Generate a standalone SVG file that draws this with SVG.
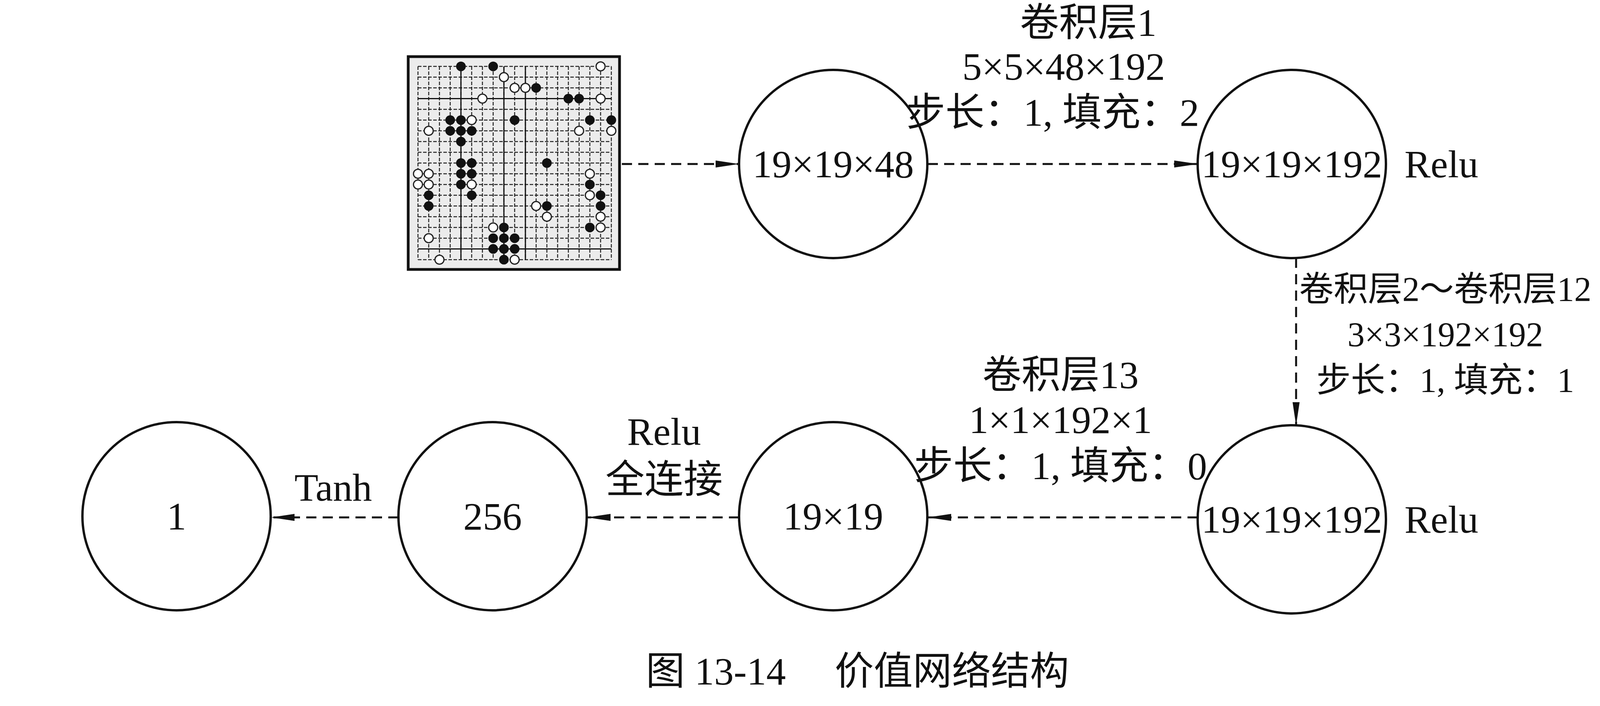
<svg xmlns="http://www.w3.org/2000/svg" width="4300" height="1808" viewBox="0 0 4300 1808">
<style>
.n{fill:#fff;stroke:#111;stroke-width:6}
.t{font-family:"Liberation Serif","Noto Sans CJK SC",serif;font-size:100px;fill:#111;text-anchor:middle;dominant-baseline:central}
.r{font-size:88px}
.c{stroke:#111;stroke-width:5;stroke-dasharray:26 16;fill:none}
.g{stroke:#222;stroke-width:2.5;stroke-dasharray:9 4}
.b{fill:#111}
.w{fill:#fff;stroke:#222}
</style>
<defs>
<marker id="ah" viewBox="0 0 60 18" refX="60" refY="9" markerWidth="60" markerHeight="18" markerUnits="userSpaceOnUse" orient="auto"><path d="M0,0 L60,9 L0,18 Z" fill="#111"/></marker>
</defs>
<rect width="4300" height="1808" fill="#fff"/>
<g id="board">
<rect x="1045" y="145" width="541" height="545" fill="#ececec" stroke="#111" stroke-width="7"/>
<g id="grid">
<path class="g" d="M1070,170H1565M1070,197.5H1565M1070,225H1565M1070,252.5H1565M1070,280H1565M1070,307.5H1565M1070,335H1565M1070,362.5H1565M1070,390H1565M1070,417.5H1565M1070,445H1565M1070,472.5H1565M1070,500H1565M1070,527.5H1565M1070,555H1565M1070,582.5H1565M1070,610H1565M1070,637.5H1565M1070,665H1565"/>
<path class="g" d="M1070,170V665M1097.5,170V665M1125,170V665M1152.5,170V665M1180,170V665M1207.5,170V665M1235,170V665M1262.5,170V665M1290,170V665M1317.5,170V665M1345,170V665M1372.5,170V665M1400,170V665M1427.5,170V665M1455,170V665M1482.5,170V665M1510,170V665M1537.5,170V665M1565,170V665"/>
<path stroke="#111" stroke-width="3" d="M1070,252.5H1565M1180,170V665M1290,170V665M1345,170V665M1070,637.5H1565"/>
</g>
<g id="stones" transform="translate(1070,170) scale(27.5)">
<g class="b">
<circle cx="4" cy="0" r="0.45"/><circle cx="7" cy="0" r="0.45"/><circle cx="11" cy="2" r="0.45"/><circle cx="14" cy="3" r="0.45"/><circle cx="15" cy="3" r="0.45"/>
<circle cx="3" cy="5" r="0.45"/><circle cx="4" cy="5" r="0.45"/><circle cx="9" cy="5" r="0.45"/><circle cx="16" cy="5" r="0.45"/><circle cx="18" cy="5" r="0.45"/>
<circle cx="3" cy="6" r="0.45"/><circle cx="4" cy="6" r="0.45"/><circle cx="5" cy="6" r="0.45"/><circle cx="4" cy="7" r="0.45"/>
<circle cx="4" cy="9" r="0.45"/><circle cx="5" cy="9" r="0.45"/><circle cx="4" cy="10" r="0.45"/><circle cx="5" cy="10" r="0.45"/><circle cx="4" cy="11" r="0.45"/>
<circle cx="1" cy="12" r="0.45"/><circle cx="5" cy="12" r="0.45"/><circle cx="1" cy="13" r="0.45"/><circle cx="12" cy="9" r="0.45"/><circle cx="16" cy="11" r="0.45"/>
<circle cx="17" cy="12" r="0.45"/><circle cx="12" cy="13" r="0.45"/><circle cx="17" cy="13" r="0.45"/><circle cx="16" cy="15" r="0.45"/>
<circle cx="8" cy="15" r="0.45"/><circle cx="7" cy="16" r="0.45"/><circle cx="8" cy="16" r="0.45"/><circle cx="9" cy="16" r="0.45"/>
<circle cx="7" cy="17" r="0.45"/><circle cx="8" cy="17" r="0.45"/><circle cx="9" cy="17" r="0.45"/><circle cx="8" cy="18" r="0.45"/>
</g>
<g class="w" style="stroke-width:0.11">
<circle cx="17" cy="0" r="0.42"/><circle cx="8" cy="1" r="0.42"/><circle cx="9" cy="2" r="0.42"/><circle cx="10" cy="2" r="0.42"/><circle cx="6" cy="3" r="0.42"/><circle cx="17" cy="3" r="0.42"/>
<circle cx="5" cy="5" r="0.42"/><circle cx="1" cy="6" r="0.42"/><circle cx="15" cy="6" r="0.42"/><circle cx="18" cy="6" r="0.42"/>
<circle cx="0" cy="10" r="0.42"/><circle cx="1" cy="10" r="0.42"/><circle cx="0" cy="11" r="0.42"/><circle cx="1" cy="11" r="0.42"/><circle cx="5" cy="11" r="0.42"/>
<circle cx="16" cy="10" r="0.42"/><circle cx="16" cy="12" r="0.42"/><circle cx="11" cy="13" r="0.42"/><circle cx="12" cy="14" r="0.42"/><circle cx="17" cy="14" r="0.42"/>
<circle cx="7" cy="15" r="0.42"/><circle cx="17" cy="15" r="0.42"/><circle cx="1" cy="16" r="0.42"/><circle cx="2" cy="18" r="0.42"/><circle cx="9" cy="18" r="0.42"/>
</g>
</g>
</g>
<g id="connectors">
<path class="c" d="M1592,420H1892" marker-end="url(#ah)"/>
<path class="c" d="M2375,420H3066" marker-end="url(#ah)"/>
<path class="c" d="M3318,660V1090" marker-end="url(#ah)"/>
<path class="c" d="M3066,1325H2375" marker-end="url(#ah)"/>
<path class="c" d="M1892,1325H1503" marker-end="url(#ah)"/>
<path class="c" d="M1020,1325H694" marker-end="url(#ah)"/>
</g>
<g id="n1"><circle class="n" cx="2133" cy="420" r="241"/><text class="t" x="2133" y="420">19×19×48</text></g>
<g id="n2"><circle class="n" cx="3307" cy="420" r="241"/><text class="t" x="3307" y="420">19×19×192</text><text class="t" x="3690" y="420">Relu</text></g>
<g id="n3"><circle class="n" cx="3307" cy="1330" r="241"/><text class="t" x="3307" y="1330">19×19×192</text><text class="t" x="3690" y="1330">Relu</text></g>
<g id="n4"><circle class="n" cx="2133" cy="1322" r="241"/><text class="t" x="2133" y="1322">19×19</text></g>
<g id="n5"><circle class="n" cx="1261" cy="1322" r="241"/><text class="t" x="1261" y="1322">256</text></g>
<g id="n6"><circle class="n" cx="452" cy="1322" r="241"/><text class="t" x="452" y="1322">1</text></g>
<g id="labels">
<text class="t" x="2786" y="58">卷积层1</text>
<text class="t" x="2723" y="170">5×5×48×192</text>
<text class="t" x="2695" y="288">步长：1, 填充：2</text>
<text class="t r" x="3700" y="740">卷积层2～卷积层12</text>
<text class="t r" x="3700" y="856">3×3×192×192</text>
<text class="t r" x="3700" y="973">步长：1, 填充：1</text>
<text class="t" x="2715" y="960">卷积层13</text>
<text class="t" x="2715" y="1075">1×1×192×1</text>
<text class="t" x="2715" y="1193">步长：1, 填充：0</text>
<text class="t" x="1700" y="1105">Relu</text>
<text class="t" x="1700" y="1228">全连接</text>
<text class="t" x="853" y="1248">Tanh</text>
<text class="t" x="2195" y="1719">图 13-14　 价值网络结构</text>
</g>
</svg>
